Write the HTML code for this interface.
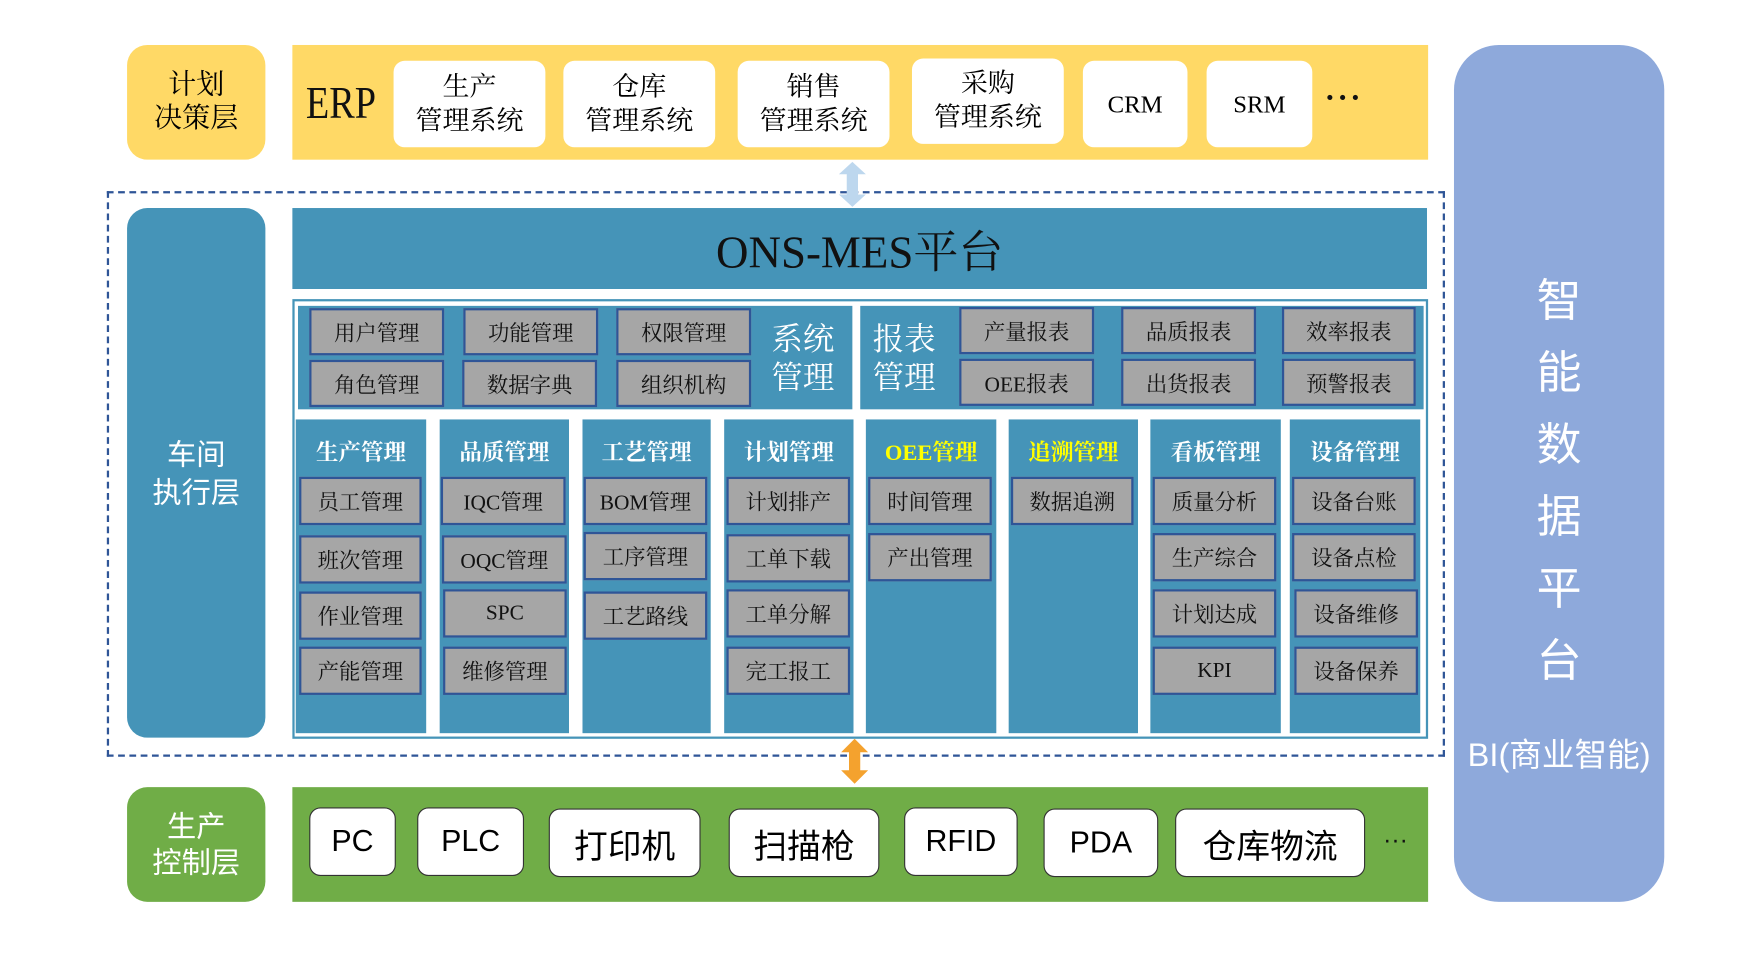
<!DOCTYPE html>
<html><head><meta charset="utf-8"><style>
html,body{margin:0;padding:0;background:#fff;width:1763px;height:976px;overflow:hidden}
#w{position:absolute;left:0;top:0;width:1560px;height:864px;transform:scale(1.1245);transform-origin:0 0}
.a{position:absolute;box-sizing:border-box}
.c{display:flex;align-items:center;justify-content:center;text-align:center}
.ser{font-family:"Liberation Serif","Noto Serif CJK SC",serif}
.san{font-family:"Liberation Sans","Noto Sans CJK SC",sans-serif}
.g{background:#A6A6A6;border:2px solid #2F5597;color:#111;font-size:19px}
.b{background:#4594B8}
.wb{background:#fff;border-radius:10px;font-size:24px;color:#000}
.h{color:#fff;font-weight:bold;font-size:20px}
</style></head><body><div id="w">
<div class="a c ser" style="left:113px;top:40px;width:123px;height:102px;background:#FFD966;border-radius:18px;font-size:25px;line-height:30px">计划<br>决策层</div>
<div class="a" style="left:260px;top:40px;width:1010px;height:102px;background:#FFD966"></div>
<div class="a ser" style="left:272px;top:70px;font-size:40px;line-height:44px;color:#111;transform:scaleX(0.85);transform-origin:0 0">ERP</div>
<div class="a c ser wb" style="left:350px;top:54px;width:135px;height:77px;line-height:30px">生产<br>管理系统</div>
<div class="a c ser wb" style="left:501px;top:54px;width:135px;height:77px;line-height:30px">仓库<br>管理系统</div>
<div class="a c ser wb" style="left:656px;top:54px;width:135px;height:77px;line-height:30px">销售<br>管理系统</div>
<div class="a c ser wb" style="left:811px;top:52px;width:135px;height:76px;line-height:30px">采购<br>管理系统</div>
<div class="a c ser wb" style="left:963px;top:54px;width:93px;height:77px;font-size:22px">CRM</div>
<div class="a c ser wb" style="left:1073px;top:54px;width:94px;height:77px;font-size:22px">SRM</div>
<div class="a ser" style="left:1178px;top:72px;font-size:28px;font-weight:bold;color:#111;letter-spacing:2px">···</div>
<div class="a" style="left:1293px;top:40px;width:187px;height:762px;background:#8EA9DB;border-radius:40px"></div>
<div class="a san" style="left:1293px;top:236px;width:187px;text-align:center;color:#fff;font-size:40px;line-height:64px">智<br>能<br>数<br>据<br>平<br>台</div>
<div class="a san" style="left:1293px;top:648px;width:187px;text-align:center;color:#fff;font-size:29px">BI(商业智能)</div>
<div class="a" style="left:95px;top:170px;width:1190px;height:503px;border:2px dashed #2F5597"></div>
<svg class="a" style="left:740px;top:142px" width="36" height="44"><polygon points="18,2 30,13 23,13 23,31 30,31 18,42 6,31 13,31 13,13 6,13" fill="#BDD7EE"/></svg>
<svg class="a" style="left:742px;top:655px" width="36" height="44"><polygon points="18,2 30,14 23,14 23,30 30,30 18,42 6,30 13,30 13,14 6,14" fill="#F4A22E"/></svg>
<div class="a c san" style="left:113px;top:185px;width:123px;height:471px;background:#4594B8;border-radius:18px;color:#fff;font-size:26px;line-height:34px">车间<br>执行层</div>
<div class="a c ser b" style="left:260px;top:185px;width:1009px;height:72px;font-size:40px;color:#111">ONS-MES平台</div>
<div class="a" style="left:260px;top:266px;width:1010px;height:391px;border:2px solid #4594B8;background:#fff"></div>
<div class="a b" style="left:265px;top:272px;width:493px;height:92px"></div>
<div class="a c ser g" style="left:275px;top:274px;width:120px;height:42px">用户管理</div>
<div class="a c ser g" style="left:412px;top:274px;width:120px;height:42px">功能管理</div>
<div class="a c ser g" style="left:548px;top:274px;width:120px;height:42px">权限管理</div>
<div class="a c ser g" style="left:275px;top:320px;width:120px;height:42px">角色管理</div>
<div class="a c ser g" style="left:411px;top:320px;width:120px;height:42px">数据字典</div>
<div class="a c ser g" style="left:548px;top:320px;width:120px;height:42px">组织机构</div>
<div class="a ser" style="left:686px;top:286px;color:#fff;font-size:28px;line-height:34px">系统<br>管理</div>
<div class="a b" style="left:765px;top:272px;width:501px;height:92px"></div>
<div class="a ser" style="left:776px;top:286px;color:#fff;font-size:28px;line-height:34px">报表<br>管理</div>
<div class="a c ser g" style="left:853px;top:273px;width:120px;height:42px">产量报表</div>
<div class="a c ser g" style="left:997px;top:273px;width:120px;height:42px">品质报表</div>
<div class="a c ser g" style="left:1140px;top:273px;width:119px;height:42px">效率报表</div>
<div class="a c ser g" style="left:853px;top:319px;width:120px;height:42px">OEE报表</div>
<div class="a c ser g" style="left:997px;top:319px;width:120px;height:42px">出货报表</div>
<div class="a c ser g" style="left:1140px;top:319px;width:119px;height:42px">预警报表</div>
<div class="a b" style="left:263px;top:373px;width:116px;height:279px"></div>
<div class="a b" style="left:391px;top:373px;width:115px;height:279px"></div>
<div class="a b" style="left:518px;top:373px;width:114px;height:279px"></div>
<div class="a b" style="left:644px;top:373px;width:115px;height:279px"></div>
<div class="a b" style="left:770px;top:373px;width:116px;height:279px"></div>
<div class="a b" style="left:897px;top:373px;width:115px;height:279px"></div>
<div class="a b" style="left:1023px;top:373px;width:116px;height:279px"></div>
<div class="a b" style="left:1147px;top:373px;width:116px;height:279px"></div>
<div class="a ser h" style="left:263px;top:386px;width:116px;text-align:center">生产管理</div>
<div class="a ser h" style="left:391px;top:386px;width:115px;text-align:center">品质管理</div>
<div class="a ser h" style="left:518px;top:386px;width:114px;text-align:center">工艺管理</div>
<div class="a ser h" style="left:644px;top:386px;width:115px;text-align:center">计划管理</div>
<div class="a ser h" style="left:770px;top:386px;width:116px;text-align:center;color:#FFFF00">OEE管理</div>
<div class="a ser h" style="left:897px;top:386px;width:115px;text-align:center;color:#FFFF00">追溯管理</div>
<div class="a ser h" style="left:1023px;top:386px;width:116px;text-align:center">看板管理</div>
<div class="a ser h" style="left:1147px;top:386px;width:116px;text-align:center">设备管理</div>
<div class="a c ser g" style="left:266px;top:424px;width:109px;height:43px">员工管理</div>
<div class="a c ser g" style="left:266px;top:476px;width:109px;height:43px">班次管理</div>
<div class="a c ser g" style="left:266px;top:526px;width:109px;height:43px">作业管理</div>
<div class="a c ser g" style="left:266px;top:575px;width:109px;height:43px">产能管理</div>
<div class="a c ser g" style="left:392px;top:424px;width:111px;height:43px">IQC管理</div>
<div class="a c ser g" style="left:393px;top:476px;width:111px;height:43px">OQC管理</div>
<div class="a c ser g" style="left:394px;top:524px;width:110px;height:43px">SPC</div>
<div class="a c ser g" style="left:394px;top:575px;width:110px;height:43px">维修管理</div>
<div class="a c ser g" style="left:519px;top:424px;width:110px;height:43px">BOM管理</div>
<div class="a c ser g" style="left:519px;top:473px;width:110px;height:43px">工序管理</div>
<div class="a c ser g" style="left:519px;top:526px;width:110px;height:43px">工艺路线</div>
<div class="a c ser g" style="left:646px;top:424px;width:110px;height:43px">计划排产</div>
<div class="a c ser g" style="left:646px;top:475px;width:110px;height:43px">工单下载</div>
<div class="a c ser g" style="left:646px;top:524px;width:110px;height:43px">工单分解</div>
<div class="a c ser g" style="left:646px;top:575px;width:110px;height:43px">完工报工</div>
<div class="a c ser g" style="left:772px;top:424px;width:110px;height:43px">时间管理</div>
<div class="a c ser g" style="left:772px;top:474px;width:110px;height:43px">产出管理</div>
<div class="a c ser g" style="left:899px;top:424px;width:109px;height:43px">数据追溯</div>
<div class="a c ser g" style="left:1025px;top:424px;width:110px;height:43px">质量分析</div>
<div class="a c ser g" style="left:1025px;top:474px;width:110px;height:43px">生产综合</div>
<div class="a c ser g" style="left:1025px;top:524px;width:110px;height:43px">计划达成</div>
<div class="a c ser g" style="left:1025px;top:575px;width:110px;height:43px">KPI</div>
<div class="a c ser g" style="left:1149px;top:424px;width:110px;height:43px">设备台账</div>
<div class="a c ser g" style="left:1149px;top:474px;width:110px;height:43px">设备点检</div>
<div class="a c ser g" style="left:1151px;top:524px;width:110px;height:43px">设备维修</div>
<div class="a c ser g" style="left:1151px;top:575px;width:110px;height:43px">设备保养</div>
<div class="a c san" style="left:113px;top:700px;width:123px;height:102px;background:#70AD47;border-radius:18px;color:#fff;font-size:26px;line-height:32px">生产<br>控制层</div>
<div class="a" style="left:260px;top:700px;width:1010px;height:102px;background:#70AD47"></div>
<div class="a c san wb" style="left:275px;top:718px;width:77px;height:61px;border:1.5px solid #333;font-size:27px">PC</div>
<div class="a c san wb" style="left:371px;top:718px;width:95px;height:61px;border:1.5px solid #333;font-size:27px">PLC</div>
<div class="a c san wb" style="left:488px;top:719px;width:135px;height:61px;border:1.5px solid #333;font-size:30px">打印机</div>
<div class="a c san wb" style="left:648px;top:719px;width:134px;height:61px;border:1.5px solid #333;font-size:30px">扫描枪</div>
<div class="a c san wb" style="left:804px;top:718px;width:101px;height:61px;border:1.5px solid #333;font-size:27px">RFID</div>
<div class="a c san wb" style="left:928px;top:719px;width:102px;height:61px;border:1.5px solid #333;font-size:27px">PDA</div>
<div class="a c san wb" style="left:1045px;top:719px;width:169px;height:61px;border:1.5px solid #333;font-size:30px">仓库物流</div>
<div class="a san" style="left:1230px;top:734px;font-size:22px;color:#111">···</div>
</div></body></html>
